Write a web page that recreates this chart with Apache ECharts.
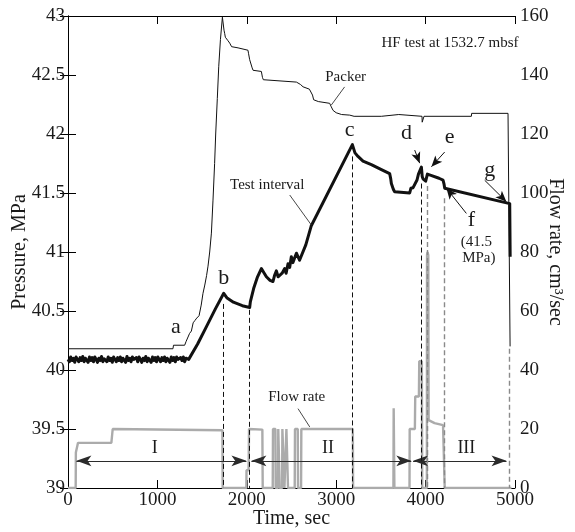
<!DOCTYPE html>
<html>
<head>
<meta charset="utf-8">
<script src="https://cdn.jsdelivr.net/npm/echarts@6/dist/echarts.min.js"></script>
<style>
  html, body { margin: 0; padding: 0; background: #fff; }
  #chart { width: 575px; height: 532px; }
</style>
</head>
<body>
<div id="chart"></div>
<script>
// ---- Test-interval pressure before injection: time (s), pressure (MPa) ----
const baselineTime = [
  0, 15, 30, 45, 60, 75, 90, 105, 120, 135,
  150, 165, 180, 195, 210, 225, 240, 255, 270, 285,
  300, 315, 330, 345, 360, 375, 390, 405, 420, 435,
  450, 465, 480, 495, 510, 525, 540, 555, 570, 585,
  600, 615, 630, 645, 660, 675, 690, 705, 720, 735,
  750, 765, 780, 795, 810, 825, 840, 855, 870, 885,
  900, 915, 930, 945, 960, 975, 990, 1005, 1020, 1035,
  1050, 1065, 1080, 1095, 1110, 1125, 1140, 1155, 1170, 1185,
  1200, 1215, 1230, 1245, 1260, 1275, 1290, 1305, 1320, 1335, 1350
];
const baselinePressure = [
  40.09, 40.07, 40.11, 40.08, 40.10, 40.065, 40.11, 40.09, 40.07, 40.105,
  40.08, 40.115, 40.07, 40.10, 40.085, 40.065, 40.11, 40.08, 40.105, 40.07,
  40.11, 40.09, 40.065, 40.10, 40.08, 40.115, 40.07, 40.095, 40.105, 40.07,
  40.11, 40.08, 40.10, 40.065, 40.11, 40.09, 40.07, 40.105, 40.08, 40.11,
  40.07, 40.10, 40.085, 40.065, 40.115, 40.08, 40.10, 40.07, 40.11, 40.09,
  40.075, 40.105, 40.07, 40.11, 40.09, 40.065, 40.10, 40.08, 40.115, 40.07,
  40.10, 40.085, 40.065, 40.11, 40.08, 40.105, 40.07, 40.11, 40.09, 40.07,
  40.105, 40.08, 40.11, 40.07, 40.10, 40.09, 40.065, 40.11, 40.08, 40.105,
  40.07, 40.11, 40.09, 40.075, 40.105, 40.08, 40.11, 40.07, 40.10, 40.085, 40.09
];

// ---- Test-interval pressure during the test: time (s), pressure (MPa) ----
const intervalTime = [
  1370, 1450, 1550, 1650, 1742, 1780, 1850, 1950, 2032,
  2040, 2080, 2120, 2163, 2175, 2195, 2219, 2260, 2293, 2310,
  2331, 2350, 2368, 2395, 2424, 2440, 2461, 2480, 2498, 2515,
  2536, 2555, 2573, 2590, 2610, 2660, 2720, 3181, 3210, 3244,
  3300, 3393, 3500, 3598, 3610, 3617, 3640, 3654, 3822, 3835,
  3860, 3878, 3904, 3920, 3953, 3962, 3971, 4001, 4020, 4060,
  4150, 4195, 4205, 4214, 4941, 4946
];
const intervalPressure = [
  40.10, 40.22, 40.37, 40.52, 40.65, 40.61, 40.575, 40.545, 40.53,
  40.58, 40.70, 40.79, 40.86, 40.875, 40.82, 40.79, 40.76, 40.75, 40.80,
  40.84, 40.79, 40.78, 40.82, 40.86, 40.82, 40.90, 40.87, 40.96, 40.91,
  40.92, 40.99, 41.00, 40.93, 40.92, 41.06, 41.22, 41.91, 41.84, 41.81,
  41.77, 41.74, 41.70, 41.665, 41.62, 41.58, 41.53, 41.51, 41.50, 41.54,
  41.545, 41.55, 41.61, 41.66, 41.72, 41.64, 41.62, 41.60, 41.66, 41.65,
  41.625, 41.61, 41.58, 41.54, 41.41, 40.96
];

// ---- Packer pressure (MPa) vs time (s) ----
const packerTime = [
  0, 1174, 1180, 1305, 1320, 1340, 1360, 1380, 1400, 1420,
  1440, 1466, 1490, 1510, 1530, 1550, 1566, 1585, 1604, 1622,
  1640, 1652, 1670, 1686, 1705, 1727, 1745, 1753, 1760, 1790,
  1809, 1830, 1902, 2013, 2020, 2032, 2050, 2060, 2070, 2163,
  2175, 2185, 2555, 2600, 2629, 2700, 2722, 2735, 2748, 2800,
  2927, 2945, 2965, 3000, 3060, 3151, 3200, 3505, 3510, 3700,
  3705, 3960, 3962, 3980, 3982, 4512, 4515, 4922, 4935, 4945, 4950
];
const packerPressure = [
  40.18, 40.18, 40.21, 40.21, 40.24, 40.25, 40.31, 40.33, 40.40, 40.42,
  40.44, 40.46, 40.55, 40.65, 40.72, 40.80, 40.88, 41.00, 41.16, 41.44,
  41.75, 42.00, 42.30, 42.57, 42.80, 42.99, 42.88, 42.85, 42.82, 42.79,
  42.77, 42.74, 42.73, 42.71, 42.68, 42.63, 42.62, 42.56, 42.54, 42.53,
  42.48, 42.46, 42.44, 42.42, 42.40, 42.38, 42.37, 42.33, 42.29, 42.275,
  42.26, 42.23, 42.20, 42.18, 42.165, 42.16, 42.15, 42.15, 42.165, 42.165,
  42.15, 42.15, 42.10, 42.10, 42.15, 42.15, 42.175, 42.175, 42.17, 40.20, 40.20
];

// ---- Injection flow rate (cm3/s) vs time (s) ----
const flowTime = [
  0, 86, 88, 100, 112, 485, 500, 1727, 1730, 1995,
  1997, 2020, 2025, 2174, 2178, 2290, 2293, 2320, 2323, 2349,
  2352, 2365, 2368, 2395, 2398, 2418, 2421, 2440, 2443, 2458,
  2461, 2536, 2539, 2570, 2573, 2607, 2610, 3186, 3189, 3640,
  3643, 3648, 3651, 3820, 3822, 3880, 3884, 3925, 3929, 3958,
  3962, 4014, 4016, 4022, 4030, 4034, 4100, 4195, 4212, 4214, 4960
];
const flowRate = [
  0, 0, 12, 12.5, 15.3, 15.3, 20, 19.6, 0, 0,
  6, 6, 20, 19.8, 0, 0, 20, 20, 0, 0,
  20, 20, 0, 0, 20, 20, 0, 0, 20, 20,
  0, 0, 20, 20, 0, 0, 20, 20, 0, 0,
  27, 27, 0, 0, 20, 20, 31, 31, 43, 43,
  0, 0, 79, 80, 79, 23, 22, 21.3, 21, 0, 0
];

// ---- Event markers: time (s) and pressure (MPa) where each dashed guide starts ----
const guideTime = [1742, 2032, 3181, 3953, 4020, 4214, 4941];
const guideTop = [40.56, 40.51, 41.81, 41.58, 41.56, 41.455, 40.18];
const guideGrey = [false, false, false, false, true, true, true];

// ---- Test stages I, II, III: start / end time (s) ----
const stageNames = ['I', 'II', 'III'];
const stageStart = [94, 2051, 3860];
const stageEnd = [1996, 3840, 4905];
const stageLevel = 9.2;           // flow-rate axis level of the stage arrows
const stageLabelAt = [970, 2908, 4456];

// ---- Event letters on the pressure axis ----
const eventLetters = ['a', 'b', 'c', 'd', 'e', 'f', 'g'];
const eventLetterTime = [1207, 1742, 3151, 3785, 4269, 4512, 4717];
const eventLetterP = [40.36, 40.78, 42.03, 42.01, 41.97, 41.27, 41.69];

// pointer arrows (from -> to) in time / pressure
const pointerFrom = [[3878, 41.864], [4213, 41.847], [4456, 41.327], [4661, 41.608]];
const pointerTo = [[3934, 41.753], [4065, 41.723], [4233, 41.54], [4904, 41.426]];

const zip = (xs, ys) => xs.map((x, i) => [x, ys[i]]);

const FONT = '"Liberation Serif", "Times New Roman", serif';
const INK = '#1a1a1a';

const chart = echarts.init(document.getElementById('chart'), null, { renderer: 'canvas' });

const solidThin = { color: '#111', width: 1, type: 'solid' };
const leaderStyle = { color: '#333', width: 0.9, type: 'solid' };

const guideLines = guideTime.map((t, i) => [
  { coord: [t, guideTop[i]], lineStyle: { color: guideGrey[i] ? '#8a8a8a' : '#111', width: guideGrey[i] ? 1.4 : 1, type: [5, 3] } },
  { coord: [t, 39] }
]);

const pointerLines = pointerFrom.map((p, i) => [
  { coord: p, symbol: 'none', lineStyle: solidThin },
  { coord: pointerTo[i], symbol: 'arrow', symbolSize: [7, 11] }
]);

const plainNumber = (v) => String(v);
const nameStyle = { fontSize: 20, color: INK, fontFamily: FONT };

const option = {
  animation: false,
  textStyle: { fontFamily: FONT },
  grid: { left: 68, right: 60, top: 16, bottom: 44, containLabel: false, outerBoundsMode: 'none' },
  xAxis: [
    {
      type: 'value', min: 0, max: 5000, interval: 1000, position: 'bottom',
      name: 'Time, sec', nameLocation: 'middle', nameGap: 21, nameMoveOverlap: false,
      nameTextStyle: nameStyle,
      axisLine: { lineStyle: { color: '#000', width: 1 } },
      axisTick: { inside: true, length: 8, lineStyle: { color: '#000' } },
      axisLabel: { fontSize: 19, color: INK, margin: 3, fontFamily: FONT, formatter: plainNumber },
      splitLine: { show: false }
    },
    {
      type: 'value', min: 0, max: 5000, interval: 1000, position: 'top',
      axisLine: { lineStyle: { color: '#000', width: 1 } },
      axisTick: { inside: true, length: 8, lineStyle: { color: '#000' } },
      axisLabel: { show: false },
      splitLine: { show: false }
    }
  ],
  yAxis: [
    {
      type: 'value', min: 39, max: 43, interval: 0.5, position: 'left',
      name: 'Pressure, MPa', nameLocation: 'middle', nameGap: 38, nameRotate: 90, nameMoveOverlap: false,
      nameTextStyle: nameStyle,
      axisLine: { show: true, lineStyle: { color: '#000', width: 1 } },
      axisTick: { show: true, inside: true, length: 8, lineStyle: { color: '#000' } },
      axisLabel: { fontSize: 19, color: INK, margin: 3, fontFamily: FONT, formatter: plainNumber },
      splitLine: { show: false }
    },
    {
      type: 'value', min: 0, max: 160, interval: 20, position: 'right',
      name: 'Flow rate, cm³/sec', nameLocation: 'middle', nameGap: 30, nameRotate: -90, nameMoveOverlap: false,
      nameTextStyle: nameStyle,
      axisLine: { show: true, lineStyle: { color: '#000', width: 1 } },
      axisTick: { show: true, inside: true, length: 8, lineStyle: { color: '#000' } },
      axisLabel: { fontSize: 19, color: INK, margin: 5, fontFamily: FONT, formatter: plainNumber },
      splitLine: { show: false }
    }
  ],
  series: [
    {
      name: 'Flow rate', type: 'line', xAxisIndex: 0, yAxisIndex: 1,
      data: zip(flowTime, flowRate), showSymbol: false, symbol: 'none',
      lineStyle: { color: '#ababab', width: 2.4 }, z: 2,
      markLine: {
        silent: true, animation: false,
        label: { show: false },
        symbol: ['arrow', 'arrow'], symbolSize: [8, 15],
        lineStyle: { color: '#2b2b2b', width: 1.2, type: 'solid' },
        data: stageStart.map((s, i) => [
          { coord: [s, stageLevel] }, { coord: [stageEnd[i], stageLevel] }
        ]).concat([
          [{ coord: [2573, 26.9], symbol: 'none', lineStyle: leaderStyle },
           { coord: [2704, 20.7], symbol: 'none' }]
        ])
      }
    },
    {
      name: 'Packer', type: 'line', xAxisIndex: 0, yAxisIndex: 0,
      data: zip(packerTime, packerPressure), showSymbol: false, symbol: 'none',
      lineStyle: { color: '#111', width: 1 }, z: 3,
      markLine: {
        silent: true, animation: false,
        label: { show: false }, symbol: ['none', 'none'],
        lineStyle: leaderStyle,
        data: [[{ coord: [3094, 42.399] }, { coord: [2946, 42.246] }]]
      }
    },
    {
      name: 'Test interval', type: 'line', xAxisIndex: 0, yAxisIndex: 0,
      data: zip(baselineTime, baselinePressure).concat(zip(intervalTime, intervalPressure)),
      showSymbol: false, symbol: 'none',
      lineStyle: { color: '#111', width: 3, join: 'round' }, z: 4,
      markLine: {
        silent: true, animation: false,
        label: { show: false }, symbol: ['none', 'none'],
        lineStyle: solidThin,
        data: guideLines.concat(pointerLines).concat([
          [{ coord: [2480, 41.483], lineStyle: leaderStyle }, { coord: [2723, 41.228] }]
        ])
      }
    }
  ]
};

chart.setOption(option);

// text annotations positioned through the chart's own axes
const px = (t, v, axis) => chart.convertToPixel({ xAxisIndex: 0, yAxisIndex: axis }, [t, v]);
const textEl = (str, pos, size) => ({
  type: 'text', x: pos[0], y: pos[1], z: 10,
  style: { text: str, font: size + 'px ' + FONT, fill: INK, align: 'center', verticalAlign: 'middle' }
});

const graphics = [];
eventLetters.forEach((l, i) => graphics.push(textEl(l, px(eventLetterTime[i], eventLetterP[i], 0), 22)));
graphics.push(textEl('HF test at 1532.7 mbsf', px(4273, 42.77, 0), 15));
graphics.push(textEl('Packer', px(3106, 42.48, 0), 15));
graphics.push(textEl('Test interval', px(2228, 41.57, 0), 15));
graphics.push(textEl('(41.5', px(4568, 41.08, 0), 15));
graphics.push(textEl('MPa)', px(4595, 40.95, 0), 15));
graphics.push(textEl('Flow rate', px(2558, 30.8, 1), 15));
stageNames.forEach((n, i) => graphics.push(textEl(n, px(stageLabelAt[i], 13.6, 1), 18)));

chart.setOption({ graphic: graphics });
</script>
</body>
</html>
